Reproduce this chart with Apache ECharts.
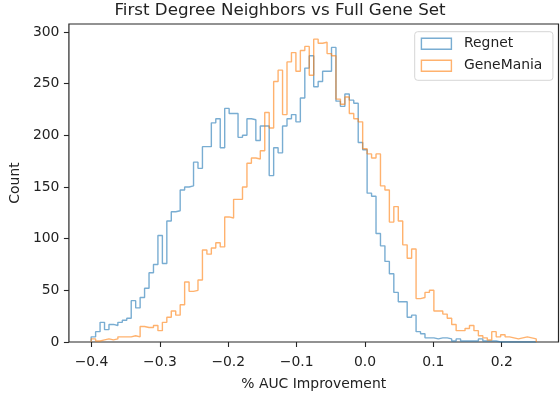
<!DOCTYPE html>
<html><head><meta charset="utf-8">
<script src="https://cdn.jsdelivr.net/npm/echarts@6/dist/echarts.min.js"></script>
<style>html,body{margin:0;padding:0;background:#fff}#c{width:560px;height:396px}</style>
</head><body><div id="c"></div>
<script>
// ---- data (100 shared bins) ----
const binStart = -0.4005;
const binEnd = 0.2505;
const seriesNames = ['Regnet', 'GeneMania'];
const regnetCounts = [
  5, 10, 19, 12, 17, 16, 19, 21, 23, 40,
  33, 43, 52, 67, 75, 103, 76, 117, 126, 127,
  147, 150, 151, 174, 168, 189, 189, 212, 216, 188,
  226, 221, 221, 198, 200, 216, 215, 195, 209, 209,
  161, 188, 183, 209, 216, 220, 213, 236, 265, 277,
  247, 252, 262, 262, 285, 233, 228, 240, 234, 231,
  193, 186, 144, 141, 105, 93, 78, 66, 48, 39,
  39, 24, 26, 10, 8, 4, 4, 3, 4, 4,
  3, 1, 3, 1, 1, 1, 1, 3, 1, 1,
  1, 0, 0, 0, 0, 0, 0, 0, 0, 0
];
const genemaniaCounts = [
  3, 1, 2, 3, 2, 3, 5, 5, 5, 6,
  5, 15, 14, 14, 16, 11, 19, 24, 30, 26,
  36, 58, 49, 50, 60, 89, 85, 91, 96, 92,
  121, 120, 138, 138, 150, 173, 178, 177, 185, 222,
  207, 252, 263, 220, 271, 280, 262, 282, 286, 258,
  293, 289, 290, 279, 277, 235, 230, 237, 221, 216,
  213, 187, 182, 178, 182, 151, 147, 116, 131, 117,
  94, 81, 90, 42, 43, 48, 50, 30, 30, 27,
  23, 17, 11, 11, 13, 16, 11, 6, 4, 2,
  10, 5, 7, 5, 4, 3, 4, 5, 4, 3
];
const xTickValues = [-0.4, -0.3, -0.2, -0.1, 0.0, 0.1, 0.2];
const yTickValues = [0, 50, 100, 150, 200, 250, 300];
const titleText = 'First Degree Neighbors vs Full Gene Set';
const xAxisTitle = '% AUC Improvement';
const yAxisTitle = 'Count';

// ---- build step outlines (matplotlib histtype="step") ----
function stepOutline(counts) {
  const n = counts.length, w = (binEnd - binStart) / n;
  const pts = [[binStart, 0]];
  for (let i = 0; i < n; i++) {
    const a = binStart + i * w, b = binStart + (i + 1) * w;
    pts.push([a, counts[i]], [b, counts[i]]);
  }
  pts.push([binEnd, 0]);
  return pts;
}

const font = 'DejaVu Sans';
const textColor = '#222';
const colors = ['rgba(31,119,180,0.6)', 'rgba(255,127,14,0.6)'];
const maxCount = Math.max(...regnetCounts, ...genemaniaCounts);
const dataLo = binStart, dataHi = binEnd, span = dataHi - dataLo;

const chart = echarts.init(document.getElementById('c'), null, {renderer: 'canvas'});
chart.setOption({
  animation: false,
  backgroundColor: '#fff',
  title: {
    text: titleText, left: 'center', top: 0, padding: [2, 0, 0, 59],
    textStyle: {fontFamily: font, fontSize: 16.7, fontWeight: 'normal', color: textColor}
  },
  legend: {
    orient: 'vertical', left: 414.7, top: 31.7,
    padding: [4.1, 10.6, 6.6, 6], itemGap: 5.9, itemWidth: 30, itemHeight: 11,
    backgroundColor: '#fff', borderColor: '#d6d6d6', borderWidth: 1, borderRadius: 3,
    textStyle: {fontFamily: font, fontSize: 13.9, color: textColor, lineHeight: 16, padding: [0, 0, 0, 7.6]},
    data: seriesNames.map((n, i) => ({
      name: n, icon: 'rect',
      itemStyle: {color: 'rgba(0,0,0,0)', borderColor: colors[i], borderWidth: 1.4}
    }))
  },
  grid: {left: 60.5, right: 1.5, top: 24, bottom: 47.7, show: true, borderColor: '#262626', borderWidth: 1.2, backgroundColor: 'transparent'},
  xAxis: {
    type: 'value', min: dataLo - 0.05 * span, max: dataHi + 0.05 * span,
    name: xAxisTitle, nameLocation: 'middle', nameGap: 35,
    nameTextStyle: {fontFamily: font, fontSize: 13.9, color: textColor},
    axisLine: {show: false, onZero: false},
    splitLine: {show: false},
    axisTick: {show: true, inside: false, length: 5, lineStyle: {color: '#262626', width: 1.1}, customValues: xTickValues},
    axisLabel: {
      fontFamily: font, fontSize: 13.9, color: textColor, margin: 13.5,
      customValues: xTickValues,
      formatter: v => (v < 0 ? '\u2212' : '') + Math.abs(v).toFixed(1)
    }
  },
  yAxis: {
    type: 'value', min: 0, max: maxCount * 1.05,
    name: yAxisTitle, nameLocation: 'middle', nameGap: 43,
    nameTextStyle: {fontFamily: font, fontSize: 13.9, color: textColor},
    axisLine: {show: false, onZero: false},
    splitLine: {show: false},
    axisTick: {show: true, inside: false, length: 5, lineStyle: {color: '#262626', width: 1.1}, customValues: yTickValues},
    axisLabel: {fontFamily: font, fontSize: 13.9, color: textColor, margin: 9.5, customValues: yTickValues}
  },
  series: [regnetCounts, genemaniaCounts].map((counts, i) => ({
    name: seriesNames[i], type: 'line', data: stepOutline(counts),
    showSymbol: false, symbol: 'none', silent: true,
    itemStyle: {color: colors[i]},
    lineStyle: {color: colors[i], width: 1.4},
    z: 2 + i
  }))
});
</script></body></html>
